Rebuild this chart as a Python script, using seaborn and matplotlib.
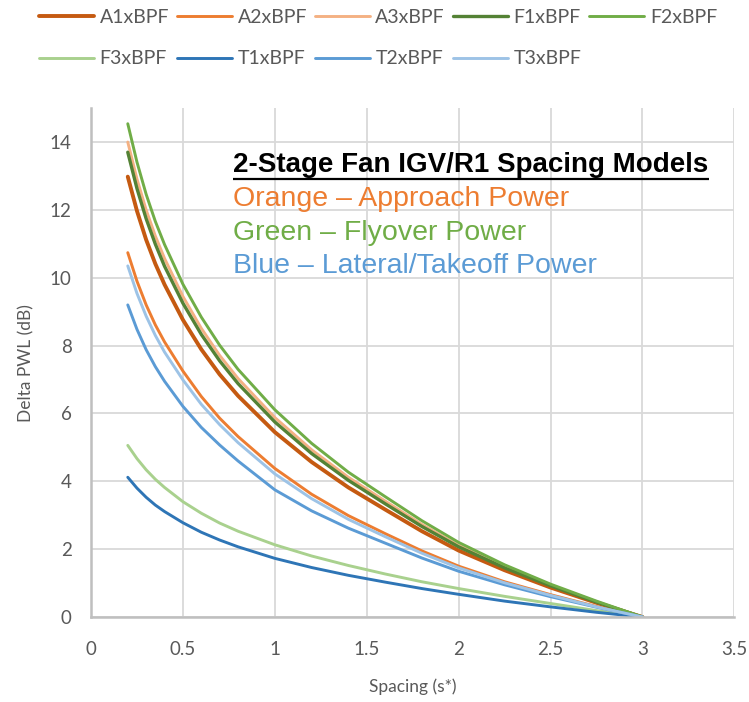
import matplotlib
matplotlib.use("Agg")
import matplotlib.pyplot as plt
import seaborn as sns
import pandas as pd

# spacing points (s*)
spacing = [0.2, 0.25, 0.3, 0.35, 0.4, 0.5, 0.6, 0.7, 0.8, 1.0, 1.2, 1.4,
           1.6, 1.8, 2.0, 2.25, 2.5, 2.75, 3.0]

# delta PWL (dB)
a1 = [12.98, 11.97, 11.12, 10.41, 9.80, 8.76, 7.89, 7.15, 6.52, 5.45, 4.57, 3.82,
      3.17, 2.53, 1.96, 1.38, 0.87, 0.42, 0.0]
a2 = [10.74, 9.90, 9.20, 8.61, 8.11, 7.25, 6.50, 5.86, 5.32, 4.38, 3.62, 2.99,
      2.46, 1.95, 1.50, 1.04, 0.66, 0.31, 0.0]
a3 = [14.0, 12.91, 12.0, 11.23, 10.57, 9.45, 8.51, 7.71, 7.03, 5.88, 4.93, 4.12,
      3.42, 2.73, 2.11, 1.48, 0.94, 0.45, 0.0]
f1 = [13.7, 12.63, 11.74, 10.99, 10.34, 9.25, 8.33, 7.55, 6.88, 5.75, 4.82, 4.03,
      3.34, 2.67, 2.07, 1.45, 0.92, 0.44, 0.0]
f2 = [14.54, 13.41, 12.46, 11.66, 10.98, 9.81, 8.84, 8.01, 7.30, 6.11, 5.12, 4.27,
      3.55, 2.84, 2.20, 1.54, 0.97, 0.47, 0.0]
f3 = [5.06, 4.67, 4.34, 4.06, 3.82, 3.40, 3.06, 2.77, 2.53, 2.13, 1.80, 1.52,
      1.27, 1.04, 0.84, 0.61, 0.40, 0.19, 0.0]
t1 = [4.12, 3.80, 3.53, 3.30, 3.11, 2.78, 2.50, 2.27, 2.07, 1.73, 1.46, 1.23,
      1.03, 0.84, 0.67, 0.47, 0.30, 0.14, 0.0]
t2 = [9.2, 8.48, 7.88, 7.38, 6.95, 6.21, 5.59, 5.07, 4.60, 3.75, 3.13, 2.62,
      2.18, 1.74, 1.35, 0.95, 0.60, 0.29, 0.0]
t3 = [10.35, 9.54, 8.87, 8.30, 7.81, 6.99, 6.27, 5.67, 5.14, 4.22, 3.49, 2.88,
      2.37, 1.88, 1.45, 1.01, 0.64, 0.30, 0.0]

names = ["A1xBPF", "A2xBPF", "A3xBPF", "F1xBPF", "F2xBPF",
         "F3xBPF", "T1xBPF", "T2xBPF", "T3xBPF"]
series = [a1, a2, a3, f1, f2, f3, t1, t2, t3]
colors = ["#C55A11", "#ED7D31", "#F4B183", "#548235", "#70AD47",
          "#A9D18E", "#2E75B6", "#5B9BD5", "#9DC3E6"]
widths = [2.8, 2.1, 2.1, 2.4, 2.1, 2.1, 2.1, 2.1, 2.1]

sns.set_theme(style="whitegrid")
plt.rcParams["font.family"] = ["Lato", "DejaVu Sans"]

fig = plt.figure(figsize=(7.49, 7.02), dpi=100)
ax = fig.add_axes([0.1215, 0.121, 0.859, 0.725])

handles = {}
for name, vals, c, w in zip(names, series, colors, widths):
    df = pd.DataFrame({"Spacing": spacing, "dPWL": vals})
    sns.lineplot(data=df, x="Spacing", y="dPWL", color=c, linewidth=w,
                 ax=ax, label=name, legend=False)
    ln = ax.lines[-1]
    ln.set_solid_capstyle("round")
    ln.set_solid_joinstyle("round")
    handles[name] = ln

ax.set_xlim(0, 3.5)
ax.set_ylim(0, 15)
ax.set_xticks([0, 0.5, 1, 1.5, 2, 2.5, 3, 3.5])
ax.set_xticklabels(["0", "0.5", "1", "1.5", "2", "2.5", "3", "3.5"])
ax.set_yticks(range(0, 15, 2))
ax.grid(True, color="#D9D9D9", linewidth=1.3)
for s in ["top", "right"]:
    ax.spines[s].set_visible(False)
for s in ["left", "bottom"]:
    ax.spines[s].set_color("#BFBFBF")
    ax.spines[s].set_linewidth(1.8)
ax.tick_params(axis="both", colors="#595959", labelsize=13.5, length=5,
               width=1.3, direction="out")
ax.tick_params(axis="x", pad=12)
ax.tick_params(axis="y", pad=9)
ax.tick_params(axis="both", color="#BFBFBF")
ax.set_xlabel("Spacing (s*)", fontsize=12.5, color="#595959", labelpad=15)
ax.set_ylabel("Delta PWL (dB)", fontsize=12.5, color="#595959", labelpad=11)

# legend laid out row by row like the original
order = ["A1xBPF", "F3xBPF", "A2xBPF", "T1xBPF", "A3xBPF",
         "T2xBPF", "F1xBPF", "T3xBPF", "F2xBPF"]
leg = fig.legend([handles[n] for n in order], order, loc="upper left",
                 bbox_to_anchor=(0.029, 1.012), ncol=5, frameon=False,
                 fontsize=14, handlelength=2.8, handletextpad=0.3,
                 columnspacing=0.42, labelspacing=1.25)
for t in leg.get_texts():
    t.set_color("#595959")

txt_font = ["Liberation Sans", "DejaVu Sans"]
x0 = 0.221
ax.text(x0, 0.888, "2-Stage Fan IGV/R1 Spacing Models", transform=ax.transAxes,
        fontsize=20, fontweight="bold", color="black", family=txt_font,
        va="center", ha="left")
# underline
ax.plot([x0, 0.960], [0.861, 0.861], transform=ax.transAxes, color="black",
        linewidth=1.6, solid_capstyle="butt")
ax.text(x0, 0.822, "Orange \u2013 Approach Power", transform=ax.transAxes,
        fontsize=20.5, color="#ED7D31", family=txt_font, va="center", ha="left")
ax.text(x0, 0.755, "Green \u2013 Flyover Power", transform=ax.transAxes,
        fontsize=20.5, color="#70AD47", family=txt_font, va="center", ha="left")
ax.text(x0, 0.690, "Blue \u2013 Lateral/Takeoff Power", transform=ax.transAxes,
        fontsize=20.5, color="#5B9BD5", family=txt_font, va="center", ha="left")

fig.savefig("out.png", dpi=100)
